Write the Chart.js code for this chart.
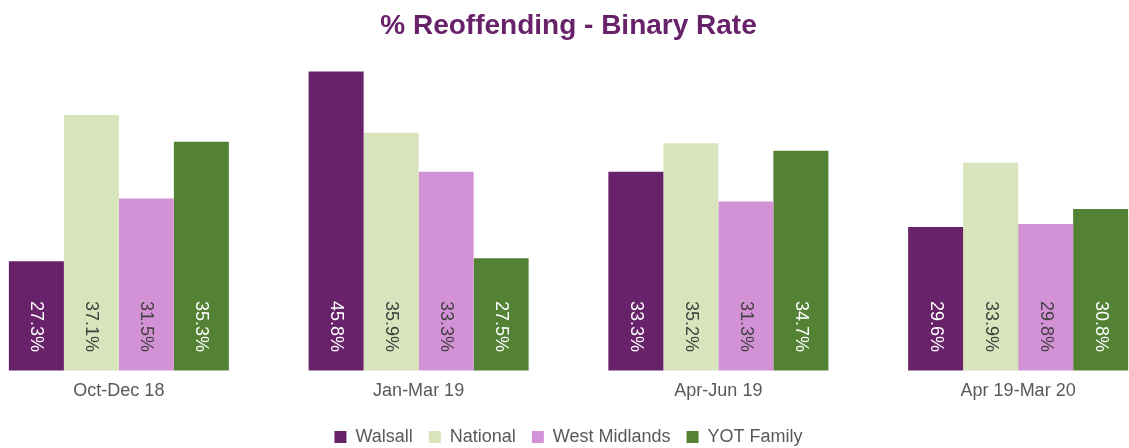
<!DOCTYPE html>
<html>
<head>
<meta charset="utf-8">
<script src="https://cdn.jsdelivr.net/npm/chart.js@4"></script>
<style>
  html, body { margin: 0; padding: 0; background: #fff; overflow: hidden; width: 1129px; height: 448px; }
  /* canvas is a bit wider/taller than the window so the outer groups sit close to the edges */
  #wrap { position: absolute; left: -39px; top: 0; width: 1207px; height: 456px; }
</style>
</head>
<body>
<div id="wrap"><canvas id="chart"></canvas></div>
<script>
const categories = ['Oct-Dec 18', 'Jan-Mar 19', 'Apr-Jun 19', 'Apr 19-Mar 20'];
const walsall = [27.3, 45.8, 33.3, 29.6];
const national = [37.1, 35.9, 35.2, 33.9];
const westMidlands = [31.5, 33.3, 31.3, 29.8];
const yotFamily = [35.3, 27.5, 34.7, 30.8];
const seriesNames = ['Walsall', 'National', 'West Midlands', 'YOT Family'];
const seriesColors = ['#68226A', '#D8E4BC', '#D492D6', '#548235'];
const labelColors = ['#ffffff', '#404040', '#404040', '#ffffff'];

Chart.defaults.font.family = '"Liberation Sans", Arial, sans-serif';

// draw the value labels rotated inside the bars, near the bottom
const barLabels = {
  id: 'barLabels',
  afterDatasetsDraw(chart) {
    const ctx = chart.ctx;
    const bottom = chart.scales.y.bottom;
    ctx.save();
    ctx.font = '18px "Liberation Sans", Arial, sans-serif';
    ctx.textAlign = 'center';
    ctx.textBaseline = 'middle';
    chart.data.datasets.forEach((ds, i) => {
      const meta = chart.getDatasetMeta(i);
      meta.data.forEach((bar, j) => {
        ctx.save();
        ctx.translate(bar.x, bottom - 44);
        ctx.rotate(Math.PI / 2);
        ctx.fillStyle = labelColors[i];
        ctx.fillText(ds.data[j].toFixed(1) + '%', 0, 0);
        ctx.restore();
      });
    });
    ctx.restore();
  }
};

const allSeries = [walsall, national, westMidlands, yotFamily];

new Chart(document.getElementById('chart'), {
  type: 'bar',
  data: {
    labels: categories,
    datasets: allSeries.map((vals, i) => ({
      label: seriesNames[i],
      data: vals,
      backgroundColor: seriesColors[i],
      borderWidth: 0
    }))
  },
  options: {
    responsive: true,
    maintainAspectRatio: false,
    animation: false,
    categoryPercentage: 0.734,
    barPercentage: 1,
    layout: {
      padding: { left: 8, right: 0, top: 0, bottom: 0 }
    },
    scales: {
      x: {
        grid: { display: false, drawTicks: false },
        border: { display: false },
        ticks: {
          color: '#595959',
          font: { size: 18 },
          padding: 10
        }
      },
      y: {
        display: false,
        min: 20,
        max: 40
      }
    },
    plugins: {
      title: {
        display: true,
        text: '% Reoffending - Binary Rate',
        color: '#68226A',
        font: { size: 28, weight: 'bold' },
        padding: { top: 9, bottom: 29 }
      },
      legend: {
        position: 'bottom',
        labels: {
          color: '#595959',
          font: { size: 18 },
          boxWidth: 12,
          boxHeight: 12,
          padding: 16
        }
      },
      tooltip: { enabled: false }
    }
  },
  plugins: [barLabels]
});
</script>
</body>
</html>
